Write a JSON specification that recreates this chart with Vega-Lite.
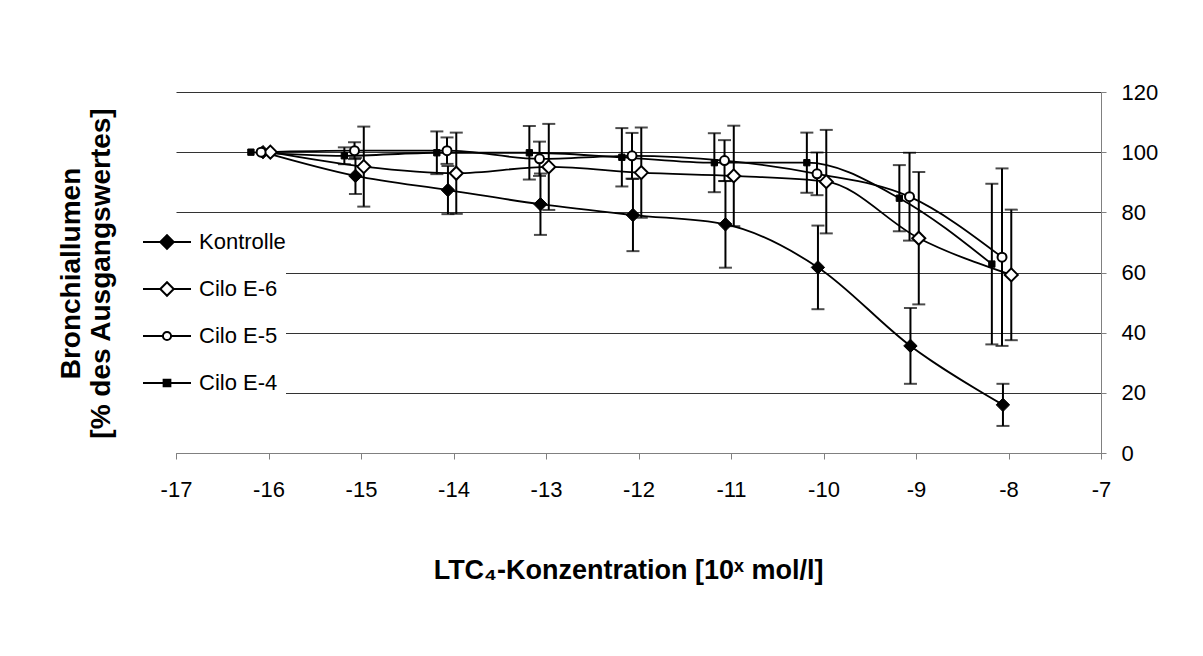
{
  "$schema": "https://vega.github.io/schema/vega-lite/v6.json",
  "width": 925,
  "height": 361,
  "autosize": {"type": "none"},
  "padding": {"left": 176, "top": 92, "right": 102, "bottom": 203},
  "background": "white",
  "config": {"font": "Liberation Sans", "view": {"stroke": null}},
  "datasets": {
    "d": [
      {"series": "Kontrolle", "x": -16.06, "v": 100, "lo": 100, "hi": 100},
      {"series": "Kontrolle", "x": -15.06, "v": 92.1, "lo": 86.1, "hi": 98.1},
      {"series": "Kontrolle", "x": -14.06, "v": 87.4, "lo": 79.4, "hi": 95.4},
      {"series": "Kontrolle", "x": -13.06, "v": 82.7, "lo": 72.5, "hi": 92.9},
      {"series": "Kontrolle", "x": -12.06, "v": 79.1, "lo": 67.1, "hi": 91.1},
      {"series": "Kontrolle", "x": -11.06, "v": 76.0, "lo": 61.6, "hi": 90.4},
      {"series": "Kontrolle", "x": -10.06, "v": 61.7, "lo": 47.8, "hi": 75.6},
      {"series": "Kontrolle", "x": -9.06, "v": 35.6, "lo": 23.0, "hi": 48.2},
      {"series": "Kontrolle", "x": -8.06, "v": 16.0, "lo": 9.0, "hi": 23.0},
      {"series": "Cilo E-6", "x": -15.98, "v": 100, "lo": 100, "hi": 100},
      {"series": "Cilo E-6", "x": -14.97, "v": 95.2, "lo": 81.9, "hi": 108.5},
      {"series": "Cilo E-6", "x": -13.97, "v": 93.0, "lo": 79.5, "hi": 106.5},
      {"series": "Cilo E-6", "x": -12.97, "v": 95.1, "lo": 80.8, "hi": 109.4},
      {"series": "Cilo E-6", "x": -11.97, "v": 93.2, "lo": 78.2, "hi": 108.2},
      {"series": "Cilo E-6", "x": -10.97, "v": 92.1, "lo": 75.4, "hi": 108.8},
      {"series": "Cilo E-6", "x": -9.97, "v": 90.2, "lo": 73.0, "hi": 107.4},
      {"series": "Cilo E-6", "x": -8.97, "v": 71.4, "lo": 49.4, "hi": 93.4},
      {"series": "Cilo E-6", "x": -7.97, "v": 59.2, "lo": 37.5, "hi": 80.9},
      {"series": "Cilo E-5", "x": -16.08, "v": 100, "lo": 100, "hi": 100},
      {"series": "Cilo E-5", "x": -15.07, "v": 100.5, "lo": 97.7, "hi": 103.3},
      {"series": "Cilo E-5", "x": -14.07, "v": 100.5, "lo": 96.1, "hi": 104.9},
      {"series": "Cilo E-5", "x": -13.07, "v": 97.8, "lo": 92.1, "hi": 103.5},
      {"series": "Cilo E-5", "x": -12.07, "v": 98.8, "lo": 91.2, "hi": 106.4},
      {"series": "Cilo E-5", "x": -11.07, "v": 97.2, "lo": 90.4, "hi": 104.0},
      {"series": "Cilo E-5", "x": -10.07, "v": 92.8, "lo": 85.7, "hi": 99.9},
      {"series": "Cilo E-5", "x": -9.07, "v": 85.2, "lo": 70.6, "hi": 99.8},
      {"series": "Cilo E-5", "x": -8.07, "v": 65.1, "lo": 35.6, "hi": 94.6},
      {"series": "Cilo E-4", "x": -16.19, "v": 100, "lo": 100, "hi": 100},
      {"series": "Cilo E-4", "x": -15.18, "v": 98.8, "lo": 96.0, "hi": 101.6},
      {"series": "Cilo E-4", "x": -14.18, "v": 99.8, "lo": 92.7, "hi": 106.9},
      {"series": "Cilo E-4", "x": -13.18, "v": 99.8, "lo": 90.9, "hi": 108.7},
      {"series": "Cilo E-4", "x": -12.18, "v": 98.3, "lo": 88.6, "hi": 108.0},
      {"series": "Cilo E-4", "x": -11.18, "v": 96.5, "lo": 86.7, "hi": 106.3},
      {"series": "Cilo E-4", "x": -10.18, "v": 96.5, "lo": 86.5, "hi": 106.5},
      {"series": "Cilo E-4", "x": -9.18, "v": 84.7, "lo": 73.7, "hi": 95.7},
      {"series": "Cilo E-4", "x": -8.18, "v": 62.8, "lo": 36.1, "hi": 89.5}
    ]
  },
  "data": {"name": "d"},
  "encoding": {
    "x": {
      "field": "x",
      "type": "quantitative",
      "scale": {"domain": [-17, -7], "nice": false, "zero": false},
      "axis": {
        "values": [-17, -16, -15, -14, -13, -12, -11, -10, -9, -8, -7],
        "labelExpr": "replace(datum.label, '\u2212', '-')",
        "grid": false,
        "domainColor": "#808080",
        "tickColor": "#808080",
        "tickSize": 6,
        "labelFontSize": 22,
        "labelColor": "black",
        "labelPadding": 20,
        "labelFlush": false,
        "title": "LTC₄-Konzentration [10ˣ mol/l]",
        "titleFontSize": 27,
        "titleFontWeight": "bold",
        "titleColor": "black",
        "titlePadding": 57,
        "titleX": 452
      }
    },
    "y": {
      "field": "v",
      "type": "quantitative",
      "scale": {"domain": [0, 120], "nice": false},
      "axis": {
        "orient": "right",
        "values": [0, 20, 40, 60, 80, 100, 120],
        "grid": true,
        "gridColor": "#333333",
        "gridWidth": 1,
        "domainColor": "#808080",
        "tickColor": "#808080",
        "tickSize": 5,
        "labelFontSize": 22,
        "labelColor": "black",
        "labelPadding": 15,
        "labelFlush": false,
        "title": ["Bronchiallumen", "[% des Ausgangswertes]"],
        "titleFontSize": 28,
        "titleFontWeight": "bold",
        "titleColor": "black",
        "titleAngle": 270,
        "titleAlign": "center",
        "titleBaseline": "middle",
        "titleLineHeight": 30,
        "titleX": -1030,
        "titleY": 181
      }
    }
  },
  "layer": [
    {
      "mark": {"type": "line", "interpolate": "monotone", "color": "black", "strokeWidth": 1.8},
      "encoding": {"detail": {"field": "series"}}
    },
    {
      "transform": [{"filter": "datum.hi > datum.lo"}],
      "mark": {"type": "errorbar", "color": "black", "thickness": 2, "ticks": {"size": 13, "thickness": 2, "color": "black"}, "rule": {"strokeWidth": 2, "color": "black"}},
      "encoding": {
        "y": {"field": "lo", "type": "quantitative", "title": ["Bronchiallumen", "[% des Ausgangswertes]"]},
        "y2": {"field": "hi"}
      }
    },
    {
      "transform": [{"filter": "datum.series === 'Kontrolle'"}],
      "mark": {"type": "point", "shape": "diamond", "filled": true, "fill": "black", "stroke": "black", "strokeWidth": 1, "size": 180, "opacity": 1}
    },
    {
      "transform": [{"filter": "datum.series === 'Cilo E-6'"}],
      "mark": {"type": "point", "shape": "diamond", "filled": true, "fill": "white", "stroke": "black", "strokeWidth": 2, "size": 170, "opacity": 1}
    },
    {
      "transform": [{"filter": "datum.series === 'Cilo E-5'"}],
      "mark": {"type": "point", "shape": "circle", "filled": true, "fill": "white", "stroke": "black", "strokeWidth": 2, "size": 80, "opacity": 1}
    },
    {
      "transform": [{"filter": "datum.series === 'Cilo E-4'"}],
      "mark": {"type": "point", "shape": "square", "filled": true, "fill": "black", "stroke": "black", "strokeWidth": 1, "size": 40, "opacity": 1}
    },
    {
      "mark": {"type": "point", "filled": true, "opacity": 0},
      "encoding": {
        "shape": {
          "field": "series",
          "type": "nominal",
          "scale": {
            "domain": ["Kontrolle", "Cilo E-6", "Cilo E-5", "Cilo E-4"],
            "range": [
              "M-1,0H1M-0.28,0L0,-0.28L0.28,0L0,0.28Z",
              "M-1,0H-0.28M0.28,0H1M-0.28,0L0,-0.28L0.28,0L0,0.28Z",
              "M-1,0H-0.17M0.17,0H1M-0.17,0A0.17,0.17,0,1,1,0.17,0A0.17,0.17,0,1,1,-0.17,0Z",
              "M-1,0H1M-0.14,-0.14H0.14V0.14H-0.14Z"
            ]
          },
          "legend": {
            "title": null,
            "orient": "none",
            "legendX": -34,
            "legendY": 125,
            "fillColor": "white",
            "padding": 0,
            "symbolSize": 2304,
            "symbolStrokeWidth": 2,
            "symbolStrokeColor": "black",
            "symbolOpacity": 1,
            "labelFontSize": 22,
            "labelColor": "black",
            "labelOffset": 7,
            "rowPadding": 11,
            "encode": {"symbols": {"update": {"stroke": {"value": "black"}, "strokeWidth": {"value": 2}, "opacity": {"value": 1}}}}
          }
        },
        "fill": {
          "field": "series",
          "type": "nominal",
          "scale": {"domain": ["Kontrolle", "Cilo E-6", "Cilo E-5", "Cilo E-4"], "range": ["black", "white", "white", "black"]},
          "legend": null
        },
        "stroke": {
          "field": "series",
          "type": "nominal",
          "scale": {"domain": ["Kontrolle", "Cilo E-6", "Cilo E-5", "Cilo E-4"], "range": ["black", "black", "black", "black"]},
          "legend": null
        }
      }
    }
  ]
}
